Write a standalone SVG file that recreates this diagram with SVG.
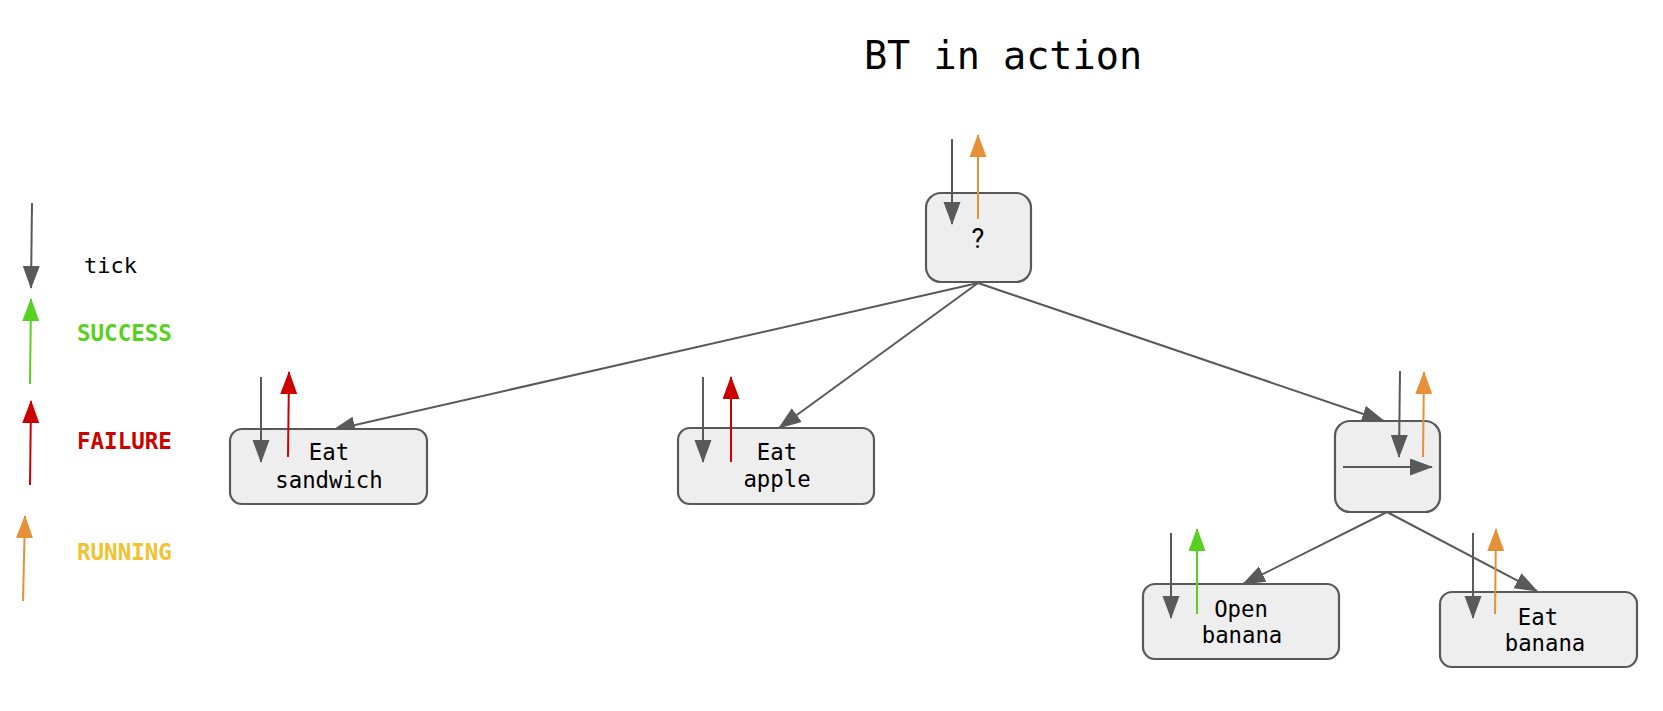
<svg xmlns="http://www.w3.org/2000/svg" width="1663" height="711" viewBox="0 0 1663 711">
<style>
.box{fill:#eeeeee;stroke:#595959;stroke-width:2.2}
.t{font-family:"DejaVu Sans Mono","Liberation Mono",monospace;font-size:22.3px;fill:#000;text-anchor:middle}
.lg{font-family:"DejaVu Sans Mono","Liberation Mono",monospace;font-size:22.5px;font-weight:bold}
.g{stroke:#595959;stroke-width:2;fill:none}
.ok{stroke:#57d120;stroke-width:2;fill:none}
.fail{stroke:#cc0000;stroke-width:2;fill:none}
.run{stroke:#e69138;stroke-width:2;fill:none}
</style>
<defs>
<marker id="mg" markerUnits="userSpaceOnUse" markerWidth="24" markerHeight="18" refX="22" refY="8.5" orient="auto"><path d="M0,0 L23,8.5 L0,17 z" fill="#595959"/></marker>
<marker id="mok" markerUnits="userSpaceOnUse" markerWidth="24" markerHeight="18" refX="22" refY="8.5" orient="auto"><path d="M0,0 L23,8.5 L0,17 z" fill="#57d120"/></marker>
<marker id="mfail" markerUnits="userSpaceOnUse" markerWidth="24" markerHeight="18" refX="22" refY="8.5" orient="auto"><path d="M0,0 L23,8.5 L0,17 z" fill="#cc0000"/></marker>
<marker id="mrun" markerUnits="userSpaceOnUse" markerWidth="24" markerHeight="18" refX="22" refY="8.5" orient="auto"><path d="M0,0 L23,8.5 L0,17 z" fill="#e69138"/></marker>
</defs>

<text x="1003" y="69" style="font-family:'DejaVu Sans Mono','Liberation Mono',monospace;font-size:38.5px;text-anchor:middle;fill:#000">BT in action</text>

<g id="legend">
<line class="g" x1="32" y1="203" x2="31" y2="288" marker-end="url(#mg)"/>
<text x="84" y="273" style="font-family:'DejaVu Sans Mono','Liberation Mono',monospace;font-size:22px;fill:#000">tick</text>
<line class="ok" x1="30" y1="384" x2="31" y2="299" marker-end="url(#mok)"/>
<text class="lg" x="77" y="341" fill="#57d120">SUCCESS</text>
<line class="fail" x1="30" y1="485" x2="31" y2="401" marker-end="url(#mfail)"/>
<text class="lg" x="77" y="449" fill="#cc0000">FAILURE</text>
<line class="run" x1="23" y1="601" x2="25" y2="516" marker-end="url(#mrun)"/>
<text class="lg" x="77" y="560" fill="#f1c232">RUNNING</text>
</g>

<g id="connectors">
<line class="g" x1="978" y1="283" x2="333" y2="430" marker-end="url(#mg)"/>
<line class="g" x1="978" y1="283" x2="779" y2="428" marker-end="url(#mg)"/>
<line class="g" x1="978" y1="283" x2="1384" y2="421" marker-end="url(#mg)"/>
<line class="g" x1="1387" y1="512" x2="1243" y2="584" marker-end="url(#mg)"/>
<line class="g" x1="1387" y1="512" x2="1537" y2="591" marker-end="url(#mg)"/>
</g>

<g id="root">
<rect class="box" x="926" y="193" width="105" height="89" rx="15"/>
<text x="978" y="248" style="font-family:Roboto,'Liberation Sans',sans-serif;font-size:27px;text-anchor:middle;fill:#000">?</text>
<line class="g" x1="952" y1="139" x2="952" y2="224" marker-end="url(#mg)"/>
<line class="run" x1="978" y1="219" x2="978" y2="135" marker-end="url(#mrun)"/>
</g>

<g id="eat-sandwich">
<rect class="box" x="230" y="429" width="197" height="75" rx="12"/>
<text class="t" x="329" y="460">Eat</text>
<text class="t" x="329" y="488">sandwich</text>
<line class="g" x1="261" y1="377" x2="261" y2="462" marker-end="url(#mg)"/>
<line class="fail" x1="288" y1="457" x2="289" y2="372" marker-end="url(#mfail)"/>
</g>

<g id="eat-apple">
<rect class="box" x="678" y="428" width="196" height="76" rx="12"/>
<text class="t" x="777" y="460">Eat</text>
<text class="t" x="777" y="487">apple</text>
<line class="g" x1="703" y1="377" x2="703" y2="462" marker-end="url(#mg)"/>
<line class="fail" x1="731" y1="462" x2="731" y2="377" marker-end="url(#mfail)"/>
</g>

<g id="sequence">
<rect class="box" x="1335" y="421" width="105" height="91" rx="15"/>
<line class="g" x1="1343" y1="467" x2="1432" y2="467" marker-end="url(#mg)"/>
<line class="g" x1="1400" y1="371" x2="1399" y2="457" marker-end="url(#mg)"/>
<line class="run" x1="1423" y1="457" x2="1424" y2="372" marker-end="url(#mrun)"/>
</g>

<g id="open-banana">
<rect class="box" x="1143" y="584" width="196" height="75" rx="12"/>
<text class="t" x="1241" y="617">Open</text>
<text class="t" x="1242" y="643">banana</text>
<line class="g" x1="1171" y1="533" x2="1171" y2="618" marker-end="url(#mg)"/>
<line class="ok" x1="1197" y1="614" x2="1197" y2="529" marker-end="url(#mok)"/>
</g>

<g id="eat-banana">
<rect class="box" x="1440" y="592" width="197" height="75" rx="12"/>
<text class="t" x="1538" y="625">Eat</text>
<text class="t" x="1545" y="651">banana</text>
<line class="g" x1="1473" y1="533" x2="1473" y2="618" marker-end="url(#mg)"/>
<line class="run" x1="1495" y1="614" x2="1496" y2="529" marker-end="url(#mrun)"/>
</g>
</svg>
